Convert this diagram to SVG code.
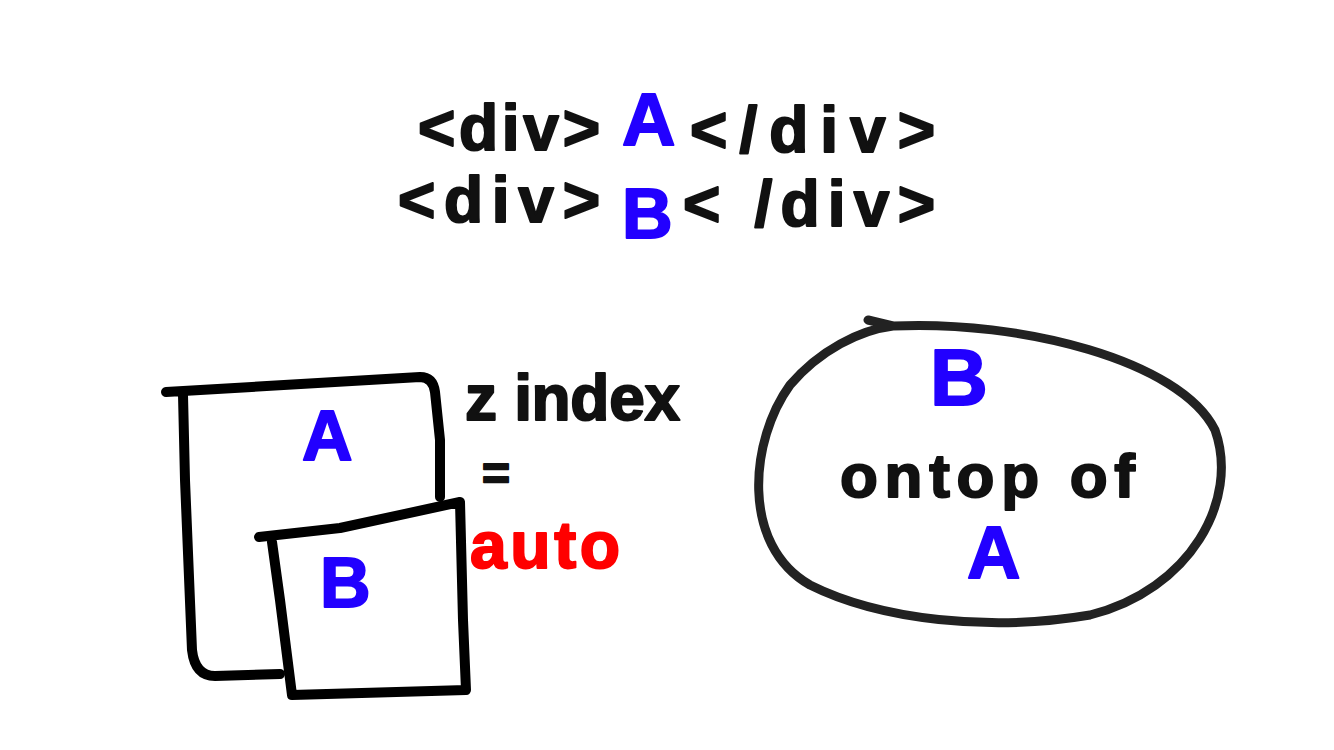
<svg xmlns="http://www.w3.org/2000/svg" width="1334" height="750" viewBox="0 0 1334 750">
<style>
.t{font-family:"Liberation Sans","DejaVu Sans",sans-serif;font-weight:bold;stroke-linejoin:round}
.k{fill:#111;stroke:#111;stroke-width:2}
.b{fill:#2200ff;stroke:#2200ff;stroke-width:2}
.r{fill:#ff0000;stroke:#ff0000;stroke-width:2}
.ln{fill:none;stroke:#000;stroke-width:10;stroke-linecap:round;stroke-linejoin:round}
</style>
<rect width="1334" height="750" fill="#fff"/>
<g id="code">
<text class="t k" x="418" y="150" font-size="64" textLength="182" lengthAdjust="spacing">&lt;div&gt;</text>
<text class="t b" x="622" y="145" font-size="74">A</text>
<text class="t k" x="690" y="152" font-size="64" textLength="245" lengthAdjust="spacing">&lt;/div&gt;</text>
<text class="t k" x="398" y="222" font-size="64" textLength="202" lengthAdjust="spacing">&lt;div&gt;</text>
<text class="t b" x="622" y="238" font-size="70">B</text>
<text class="t k" x="683" y="226" font-size="64" textLength="252" lengthAdjust="spacing">&lt; /div&gt;</text>
</g>
<g id="boxA">
<path class="ln" d="M166,392 L420,377 Q433,377 435,392 L440,440 L440,497 M183,395 L185,480 L192,650 Q195,676 215,676 L280,674"/>
<text class="t b" x="302" y="460" font-size="70">A</text>
</g>
<g id="boxB">
<path d="M272,540 L460,502 L467,690 L292,695 Z" fill="#fff"/>
<path class="ln" d="M259,537 L340,528 L460,502 L463,620 L466,690 L292,695 L280,600 L272,542"/>
<text class="t b" x="320" y="607" font-size="70">B</text>
</g>
<g id="zindex">
<text class="t k" x="465" y="420" font-size="64" textLength="215" lengthAdjust="spacing">z index</text>
<text class="t k" x="482" y="490" font-size="48">=</text>
<text class="t r" x="470" y="568" font-size="66" textLength="150" lengthAdjust="spacing">auto</text>
</g>
<g id="ellipse">
<path d="M868,320 L893,326 M893,326 C1020,320 1180,360 1215,430 C1240,500 1190,590 1090,615 C990,632 880,620 810,585 C740,545 750,440 790,385 C820,350 860,330 893,326" fill="none" stroke="#222" stroke-width="9" stroke-linecap="round"/>
<text class="t b" x="930" y="405" font-size="80" textLength="68" lengthAdjust="spacing">B</text>
<text class="t k" x="840" y="497" font-size="62" textLength="295" lengthAdjust="spacing">ontop of</text>
<text class="t b" x="967" y="578" font-size="74">A</text>
</g>
<g id="connectors"/>
</svg>
